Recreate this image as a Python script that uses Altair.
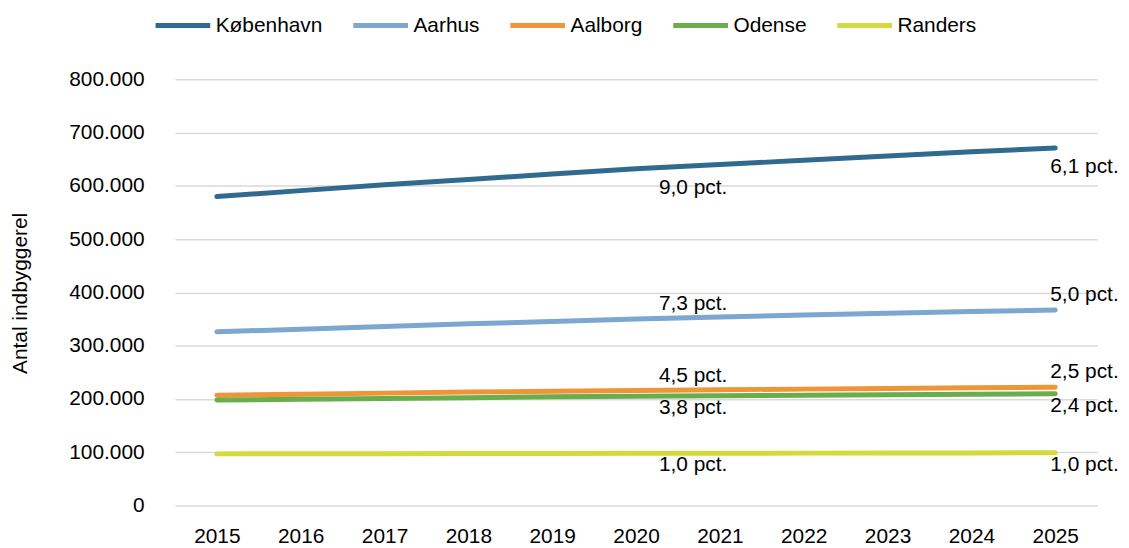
import altair as alt
import pandas as pd

years = [2015, 2016, 2017, 2018, 2019, 2020, 2021, 2022, 2023, 2024, 2025]
cities = ["København", "Aarhus", "Aalborg", "Odense", "Randers"]
colors = ["#31698f", "#7ba7d1", "#ef9535", "#69ad4c", "#d3da3c"]

kobenhavn = [580000, 591000, 602000, 612000, 622000, 632000, 640000, 648000, 656000, 664000, 671000]
aarhus = [326000, 331000, 336000, 341000, 345500, 350000, 354000, 357500, 361000, 364000, 367000]
aalborg = [207000, 209000, 211000, 213000, 214500, 216000, 217500, 218500, 219500, 221000, 222000]
odense = [198000, 199500, 201000, 202500, 204000, 205000, 206000, 207000, 208000, 209000, 210000]
randers = [97000, 97200, 97400, 97600, 97800, 98000, 98200, 98400, 98600, 98800, 99000]

mid_labels = ["9,0 pct.", "7,3 pct.", "4,5 pct.", "3,8 pct.", "1,0 pct."]
end_labels = ["6,1 pct.", "5,0 pct.", "2,5 pct.", "2,4 pct.", "1,0 pct."]

series = [kobenhavn, aarhus, aalborg, odense, randers]
rows = []
for c, vals in zip(cities, series):
    for y, v in zip(years, vals):
        rows.append({"city": c, "year": str(y), "value": v})
df = pd.DataFrame(rows)

lab_rows = []
for c, vals, m, e in zip(cities, series, mid_labels, end_labels):
    lab_rows.append({"city": c, "year": "2020", "value": vals[years.index(2020)], "label": m, "pos": "mid"})
    lab_rows.append({"city": c, "year": "2025", "value": vals[years.index(2025)], "label": e, "pos": "end"})
labdf = pd.DataFrame(lab_rows)

FONT = "Liberation Sans"
FS = 21
LEFT = 168
TOP = 70

x_enc = alt.X("year:O", scale=alt.Scale(padding=0.5),
              axis=alt.Axis(title=None, labelAngle=0, grid=False, domain=False, ticks=False,
                            tickSize=0, labelPadding=20, labelFontSize=FS, labelFont=FONT,
                            labelColor="#000000"))
y_enc = alt.Y("value:Q", scale=alt.Scale(domain=[0, 800000], nice=False),
              axis=alt.Axis(title="Antal indbyggerel", values=[0, 100000, 200000, 300000, 400000,
                                                               500000, 600000, 700000, 800000],
                            labelExpr="replace(format(datum.value, ','), ',', '.')",
                            domain=False, ticks=False, tickSize=0, labelPadding=31,
                            labelFontSize=FS, labelFont=FONT, labelColor="#000000",
                            gridColor="#d9d9d9", gridWidth=1.5,
                            titleFont=FONT, titleFontSize=FS, titleFontWeight="normal",
                            titleColor="#000000", titleX=-155, titleY=215,
                            titleAlign="center", titleBaseline="middle", titleAngle=-90))

lines = alt.Chart(df).mark_line(strokeWidth=5, strokeCap="round", strokeJoin="round").encode(
    x=x_enc,
    y=y_enc,
    color=alt.Color("city:N", scale=alt.Scale(domain=cities, range=colors),
                    legend=alt.Legend(title=None, orient="none", direction="horizontal",
                                      legendX=146 - LEFT, legendY=-14 - TOP, symbolType="stroke",
                                      symbolSize=3025, symbolStrokeWidth=5, labelOffset=3,
                                      columnPadding=20, labelFontSize=FS, labelFont=FONT,
                                      labelColor="#000000", columns=5)),
)

groups = [
    (["København"], 19),
    (["Aarhus", "Aalborg"], -15),
    (["Odense", "Randers"], 12),
]
positions = [("mid", 23), ("end", -5)]

layers = [lines]
for names, dy in groups:
    for pos, dx in positions:
        t = alt.Chart(labdf).transform_filter(
            alt.FieldOneOfPredicate(field="city", oneOf=names)
        ).transform_filter(
            alt.FieldEqualPredicate(field="pos", equal=pos)
        ).mark_text(align="left", baseline="middle", dx=dx, dy=dy, fontSize=FS, font=FONT,
                    color="#000000").encode(
            x=alt.X("year:O"),
            y=alt.Y("value:Q"),
            text="label:N",
        )
        layers.append(t)

chart = alt.layer(*layers).properties(
    width=928, height=429,
    background="#ffffff",
    autosize=alt.AutoSizeParams(type="none"),
    padding={"left": LEFT, "top": TOP, "right": 24, "bottom": 40},
).configure_view(stroke=None, strokeWidth=0)

chart.save("out.html", embed_options={"renderer": "svg", "actions": False})
